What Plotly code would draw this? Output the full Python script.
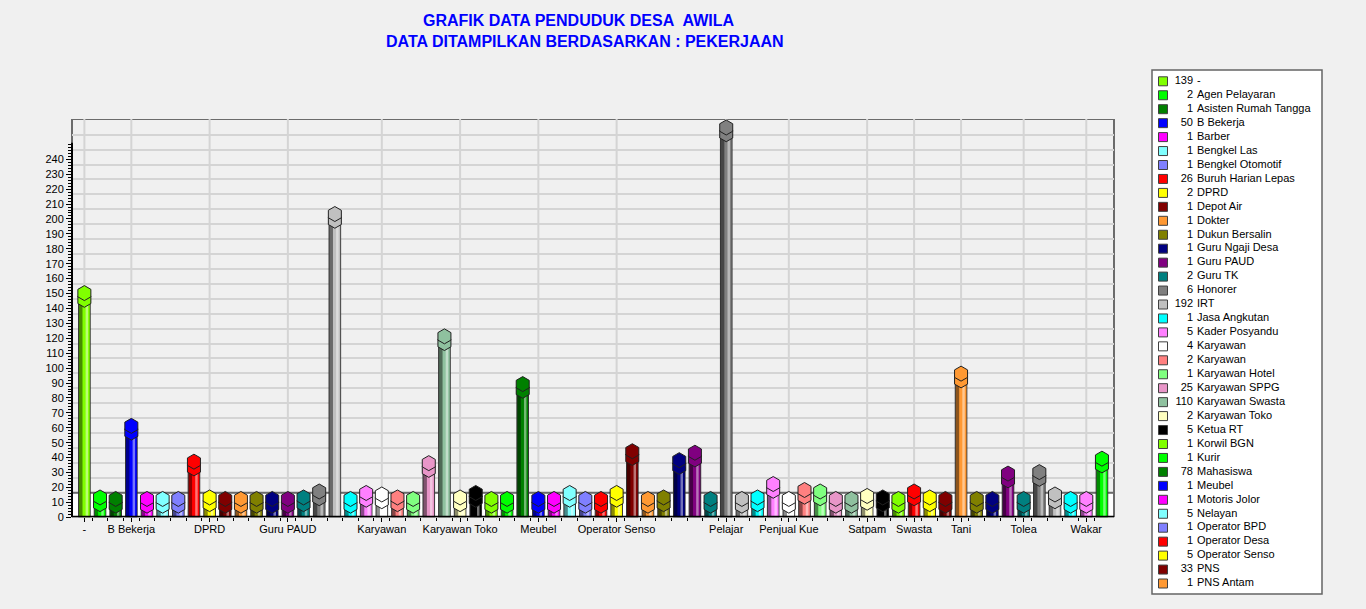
import plotly.graph_objects as go

# pekerjaan penduduk desa (urut abjad) dan jumlahnya
names = ["-", "Agen Pelayaran", "Asisten Rumah Tangga", "B Bekerja", "Barber",
         "Bengkel Las", "Bengkel Otomotif", "Buruh Harian Lepas", "DPRD", "Depot Air",
         "Dokter", "Dukun Bersalin", "Guru Ngaji Desa", "Guru PAUD", "Guru TK",
         "Honorer", "IRT", "Jasa Angkutan", "Kader Posyandu", "Karyawan",
         "Karyawan", "Karyawan Hotel", "Karyawan SPPG", "Karyawan Swasta", "Karyawan Toko",
         "Ketua RT", "Korwil BGN", "Kurir", "Mahasiswa", "Meubel",
         "Motoris Jolor", "Nelayan", "Operator BPD", "Operator Desa", "Operator Senso",
         "PNS", "PNS Antam", "PPPK", "Pedagang", "Pegawai Honorer",
         "Pekerja Lepas", "Pelajar", "Pelaut", "Pendeta", "Penjahit",
         "Penjual Kue", "Pensiunan", "Perangkat Desa", "Perawat", "Polri",
         "Satpam", "Sopir", "Staf Desa", "Swasta", "TNI",
         "Tambang", "Tani", "Teknisi", "Tenaga Kesehatan", "Tidak Bekerja",
         "Tolea", "Tukang", "Tukang Kayu", "Ustadz", "Wakar", "Wiraswasta"]
values = [139, 2, 1, 50, 1, 1, 1, 26, 2, 1,
          1, 1, 1, 1, 2, 6, 192, 1, 5, 4,
          2, 1, 25, 110, 2, 5, 1, 1, 78, 1,
          1, 5, 1, 1, 5, 33, 1, 2, 27, 32,
          1, 250, 1, 2, 11, 1, 7, 6, 1, 1,
          3, 2, 1, 6, 2, 1, 85, 1, 1, 18,
          1, 19, 4, 1, 1, 28]

# label sumbu x yang tampil (sisanya dilewati karena tumpang tindih)
tick_idx = [0, 3, 8, 13, 19, 24, 29, 34, 41, 45, 50, 53, 56, 60, 64]
y_ticks = list(range(0, 241, 10))
legend_rows = 37  # kotak legenda terpotong setelah baris ini

colors = ["#80FF00", "#00FF00", "#008000", "#0000FF", "#FF00FF", "#80FFFF", "#8080FF",
          "#FF0000", "#FFFF00", "#800000", "#FF9933", "#808000", "#000080", "#800080",
          "#008080", "#808080", "#C0C0C0", "#00FFFF", "#FF80FF", "#FFFFFF", "#FF8080",
          "#80FF80", "#E896C8", "#8FC19F", "#FFFFC0", "#000000",
          "#80FF00", "#00FF00", "#008000", "#0000FF", "#FF00FF", "#80FFFF", "#8080FF",
          "#FF0000", "#FFFF00", "#800000", "#FF9933", "#808000", "#000080", "#800080",
          "#008080", "#808080", "#C0C0C0", "#00FFFF", "#FF80FF", "#FFFFFF", "#FF8080",
          "#80FF80", "#E896C8", "#8FC19F", "#FFFFC0", "#000000",
          "#80FF00", "#FF0000", "#FFFF00", "#800000", "#FF9933", "#808000", "#000080",
          "#800080", "#008080", "#808080", "#C0C0C0", "#00FFFF", "#FF80FF", "#00FF00"]

W, H = 1366, 609
FONT = "Liberation Sans, Arial, sans-serif"

# efek 3D: dinding belakang digeser ke atas
FLOOR = 16.5
Y_TOP = 267
AXIS_TOP = 251
CAP_HI = 11.3
CAP_LO = 6.8


def mix(c, target, t):
    c = c.lstrip("#")
    r, g, b = (int(c[i:i + 2], 16) for i in (0, 2, 4))
    tr, tg, tb = target
    return "#%02x%02x%02x" % (round(r + (tr - r) * t), round(g + (tg - g) * t), round(b + (tb - b) * t))


idx = list(range(len(names)))
dark = [mix(c, (0, 0, 0), 0.45) for c in colors]
light = [mix(c, (255, 255, 255), 0.45) for c in colors]
hover = [f"{n}: {v}" for n, v in zip(names, values)]

fig = go.Figure()

# badan silinder: gelap - warna dasar - kilap
fig.add_trace(go.Bar(x=idx, y=[v + CAP_LO for v in values], width=0.74, offset=-0.37,
                     marker=dict(color=dark, line=dict(color="#303030", width=1)),
                     hovertext=hover, hoverinfo="text", showlegend=False))
fig.add_trace(go.Bar(x=idx, y=[v + CAP_LO for v in values], width=0.46, offset=-0.12,
                     marker=dict(color=colors, line=dict(width=0)),
                     hoverinfo="skip", showlegend=False))
fig.add_trace(go.Bar(x=idx, y=[v + CAP_LO for v in values], width=0.16, offset=0.08,
                     marker=dict(color=light, line=dict(width=0)),
                     hoverinfo="skip", showlegend=False))

# tutup silinder
for off in (CAP_LO, CAP_HI):
    fig.add_trace(go.Scatter(x=idx, y=[v + off for v in values], mode="markers",
                             marker=dict(symbol="hexagon", size=15, color=colors,
                                         line=dict(color="#202020", width=1)),
                             hoverinfo="skip", showlegend=False))

# sumbu bayangan untuk garis grid dinding belakang
fig.add_trace(go.Scatter(x=idx, y=values, yaxis="y2", mode="none",
                         hoverinfo="skip", showlegend=False))

# legenda manual
rows = list(range(legend_rows))
fig.add_trace(go.Scatter(x=[1163] * legend_rows, y=rows, xaxis="x2", yaxis="y3", mode="markers",
                         marker=dict(symbol="square", size=9, color=colors[:legend_rows],
                                     line=dict(color="#404040", width=1)),
                         hoverinfo="skip", showlegend=False))
fig.add_trace(go.Scatter(x=[1193] * legend_rows, y=rows, xaxis="x2", yaxis="y3", mode="text",
                         text=[str(v) for v in values[:legend_rows]], textposition="middle left",
                         textfont=dict(family=FONT, size=11, color="#000000"),
                         hoverinfo="skip", showlegend=False))
fig.add_trace(go.Scatter(x=[1197] * legend_rows, y=rows, xaxis="x2", yaxis="y3", mode="text",
                         text=names[:legend_rows], textposition="middle right",
                         textfont=dict(family=FONT, size=11, color="#000000"),
                         hoverinfo="skip", showlegend=False))

x_dom = [72 / W, 1114 / W]
y_dom = [1 - 517.3 / H, 1 - 119 / H]

fig.update_layout(
    width=W, height=H, autosize=False,
    margin=dict(l=0, r=0, t=0, b=0, pad=0),
    paper_bgcolor="#F0F0F0", plot_bgcolor="rgba(0,0,0,0)",
    barmode="overlay", showlegend=False,
    font=dict(family=FONT, size=11, color="#000000"),
    xaxis=dict(domain=x_dom, range=[-0.79, len(names) - 0.23], anchor="y", automargin=False,
               tickmode="array", tickvals=tick_idx, ticktext=[names[i] for i in tick_idx],
               ticks="outside", ticklen=4, tickcolor="#000000", ticklabelstandoff=-3,
               showgrid=False, zeroline=False, showline=False,
               minor=dict(tickmode="array", tickvals=[i + 0.5 for i in idx[:-1]],
                          ticks="outside", ticklen=3, tickcolor="#000000", showgrid=False)),
    yaxis=dict(domain=y_dom, range=[0, Y_TOP], anchor="x", automargin=False,
               tickmode="array", tickvals=y_ticks, ticks="outside", ticklen=5,
               tickcolor="#000000", showgrid=False, zeroline=False, showline=False,
               minor=dict(tickmode="array", tickvals=list(range(0, AXIS_TOP, 2)),
                          ticks="outside", ticklen=3, tickcolor="#000000", showgrid=False)),
    yaxis2=dict(overlaying="y", range=[-FLOOR, Y_TOP - FLOOR], automargin=False,
                tickmode="array", tickvals=y_ticks[1:],
                showgrid=True, gridcolor="#D4D4D4", gridwidth=2,
                showticklabels=False, ticks="", zeroline=False, showline=False),
    xaxis2=dict(domain=[1152 / W, 1322 / W], range=[1152, 1322], anchor="y3",
                visible=False, automargin=False),
    yaxis3=dict(domain=[1 - 594 / H, 1 - 70 / H], automargin=False,
                range=[(594 - 81.3) / 13.95, (70 - 81.3) / 13.95], anchor="x2", visible=False),
)

# garis grid vertikal di dinding belakang (hanya pada label yang tampil)
for i in tick_idx:
    fig.add_shape(type="line", xref="x", yref="y", x0=i, x1=i, y0=FLOOR, y1=Y_TOP,
                  line=dict(color="#D4D4D4", width=2), layer="below")

# lantai putih, bingkai dinding belakang, sumbu depan
fig.add_shape(type="rect", xref="x domain", yref="y", x0=0, x1=1, y0=0, y1=FLOOR,
              fillcolor="#FFFFFF", line=dict(color="#5A5A5A", width=1), layer="below")
fig.add_shape(type="rect", xref="x domain", yref="y", x0=0, x1=1, y0=FLOOR, y1=Y_TOP,
              fillcolor="rgba(0,0,0,0)", line=dict(color="#6B6B6B", width=2), layer="below")
fig.add_shape(type="line", xref="x domain", yref="y", x0=1, x1=1, y0=0, y1=FLOOR,
              line=dict(color="#6B6B6B", width=2))
fig.add_shape(type="line", xref="x domain", yref="y", x0=0, x1=1, y0=0, y1=0,
              line=dict(color="#000000", width=3))
fig.add_shape(type="line", xref="x domain", yref="y", x0=0, x1=0, y0=0, y1=AXIS_TOP,
              line=dict(color="#000000", width=2))

# kotak legenda
fig.add_shape(type="rect", xref="paper", yref="paper",
              x0=1152 / W, x1=1322 / W, y0=1 - 594 / H, y1=1 - 70 / H,
              fillcolor="#FFFFFF", line=dict(color="#646464", width=1.5), layer="below")

# judul
fig.add_annotation(text="GRAFIK DATA PENDUDUK DESA\u00a0 AWILA", xref="paper", yref="paper",
                   x=579 / W, y=1 - 20.3 / H, xanchor="center", yanchor="middle", showarrow=False,
                   font=dict(family=FONT, size=16, color="#0000FF", weight="bold"))
fig.add_annotation(text="DATA DITAMPILKAN BERDASARKAN : PEKERJAAN", xref="paper", yref="paper",
                   x=585 / W, y=1 - 41 / H, xanchor="center", yanchor="middle", showarrow=False,
                   font=dict(family=FONT, size=16, color="#0000FF", weight="bold"))

fig.write_html("out.html", config={"displayModeBar": False},
               post_script="document.body.style.margin='0';")
